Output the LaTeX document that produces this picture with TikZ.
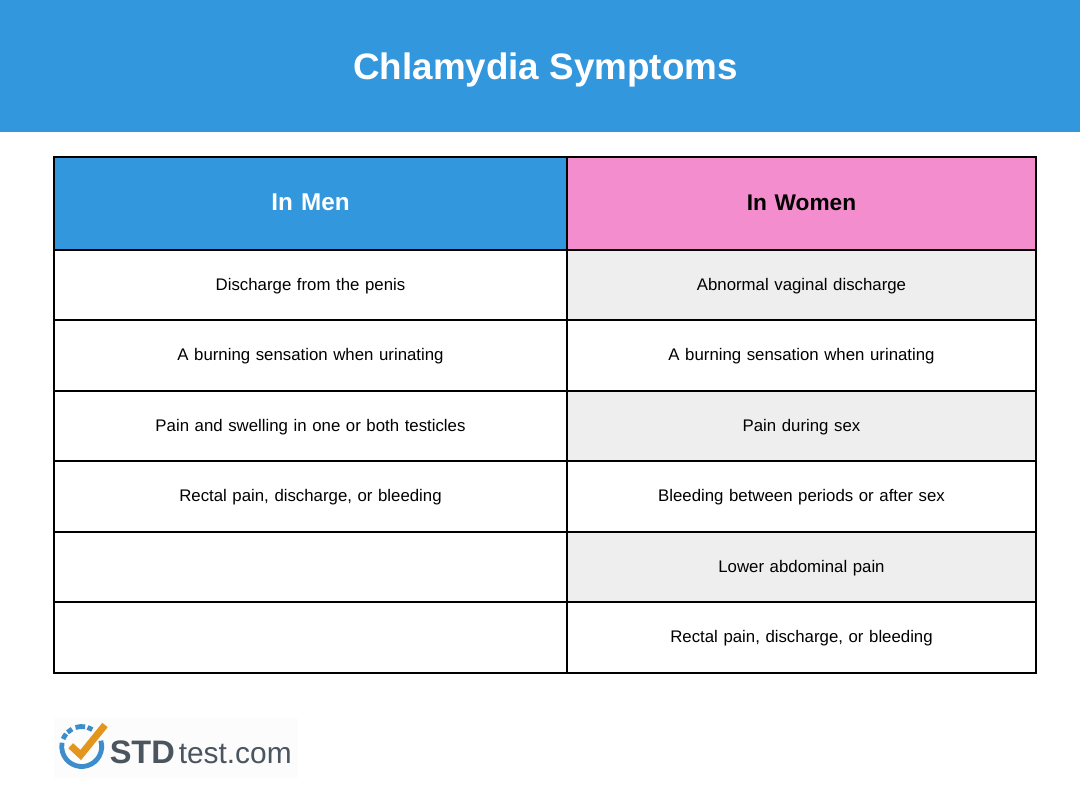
\documentclass[tikz,border=0pt]{standalone}
\usepackage{fontspec}
\setmainfont{Liberation Sans}
\definecolor{hdrblue}{HTML}{3397DD}
\definecolor{hdrpink}{HTML}{F38DCD}
\definecolor{shade}{HTML}{EEEEEE}
\definecolor{logoblue}{HTML}{3D8CCB}
\definecolor{logoorange}{HTML}{E2961E}
\definecolor{logogrey}{HTML}{4A5560}
\definecolor{logobg}{HTML}{FCFCFC}
\tikzset{
  x=0.75pt,y=-0.75pt,
  cell/.style={draw=black,line width=1.5pt,inner sep=0pt,align=center,font=\fontsize{12.6}{15}\selectfont,text height=9.5pt,text depth=2pt},
  lcell/.style={cell,minimum width=384.75pt,text width=380pt},
  rcell/.style={cell,minimum width=351.75pt,text width=345pt},
  row/.style={minimum height=52.9pt},
  hdr/.style={minimum height=69.75pt,text height=13pt,text depth=3pt},
  ring/.style={draw=logoblue,line width=3.6pt},
}
\begin{document}
\begin{tikzpicture}
\useasboundingbox (0,0) rectangle (1080,800);
\fill[white] (0,0) rectangle (1080,800);
\node[fill=hdrblue,minimum width=810pt,minimum height=99pt,inner sep=0pt] (banner) at (540,66) {};
\node[anchor=base,text=white,font=\fontsize{27.6}{32}\selectfont\bfseries,inner sep=0pt] (title) at (545.5,79) {Chlamydia Symptoms};
% header row
\node[lcell,hdr,fill=hdrblue,text=white,font=\fontsize{18.2}{22}\selectfont\bfseries] (men) at (310.5,203.5) {In Men};
\node[rcell,hdr,fill=hdrpink,text=black,font=\fontsize{17}{22}\selectfont\bfseries] (women) at (801.5,203.5) {In Women};
% body rows
\node[lcell,row] (m1) at (310.5,285) {Discharge from the penis};
\node[rcell,row,fill=shade] (w1) at (801.5,285) {Abnormal vaginal discharge};
\node[lcell,row] (m2) at (310.5,355.5) {A burning sensation when urinating};
\node[rcell,row] (w2) at (801.5,355.5) {A burning sensation when urinating};
\node[lcell,row] (m3) at (310.5,426) {Pain and swelling in one or both testicles};
\node[rcell,row,fill=shade] (w3) at (801.5,426) {Pain during sex};
\node[lcell,row] (m4) at (310.5,496.5) {Rectal pain, discharge, or bleeding};
\node[rcell,row] (w4) at (801.5,496.5) {Bleeding between periods or after sex};
\node[lcell,row] (m5) at (310.5,567) {};
\node[rcell,row,fill=shade] (w5) at (801.5,567) {Lower abdominal pain};
\node[lcell,row] (m6) at (310.5,637.5) {};
\node[rcell,row] (w6) at (801.5,637.5) {Rectal pain, discharge, or bleeding};
% logo
\fill[logobg] (54,718) rectangle (298,778);
\begin{scope}[shift={(81.7,746.5)}]
\draw[ring] (-17:20) arc[start angle=-17,end angle=191,radius=20];
\draw[ring] (202:20) arc[start angle=202,end angle=219,radius=20];
\draw[ring] (225:20) arc[start angle=225,end angle=241,radius=20];
\draw[ring] (252:20) arc[start angle=252,end angle=280,radius=20];
\draw[ring] (287:20) arc[start angle=287,end angle=302,radius=20];
\end{scope}
\draw[logoorange,line width=5.2pt,miter limit=10] (70.7,745.7) -- (80.7,755) -- (105,725);
\node[anchor=base west,inner sep=0pt,text=logogrey,font=\fontsize{24.4}{28}\selectfont\bfseries] (logostd) at (109.5,763) {STD};
\node[anchor=base west,inner sep=0pt,text=logogrey,font=\fontsize{22.4}{28}\selectfont] (logotest) at (178.5,763) {test.com};
\end{tikzpicture}
\end{document}
